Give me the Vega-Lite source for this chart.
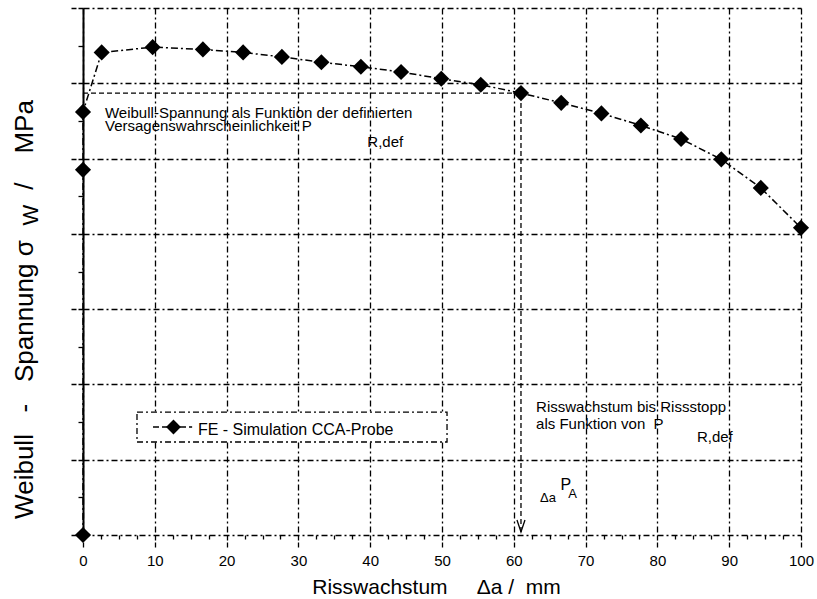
{
  "$schema": "https://vega.github.io/schema/vega-lite/v6.json",
  "width": 718,
  "height": 527,
  "autosize": {"type": "none"},
  "padding": {"left": 83, "top": 8, "right": 16, "bottom": 64},
  "background": "white",
  "config": {
    "view": {"stroke": null},
    "font": "Liberation Sans",
    "axis": {"labelFont": "Liberation Sans", "titleFont": "Liberation Sans", "labelColor": "black", "titleColor": "black", "tickColor": "black", "domainColor": "black", "gridColor": "black"}
  },
  "datasets": {
    "series": [
      {"o": 1, "a": 0, "s": 0},
      {"o": 2, "a": 0, "s": 485},
      {"o": 3, "a": 0, "s": 562},
      {"o": 4, "a": 2.6, "s": 641},
      {"o": 5, "a": 9.7, "s": 648},
      {"o": 6, "a": 16.7, "s": 645},
      {"o": 7, "a": 22.3, "s": 641},
      {"o": 8, "a": 27.7, "s": 635},
      {"o": 9, "a": 33.2, "s": 628},
      {"o": 10, "a": 38.7, "s": 622},
      {"o": 11, "a": 44.3, "s": 615},
      {"o": 12, "a": 49.9, "s": 606},
      {"o": 13, "a": 55.4, "s": 598},
      {"o": 14, "a": 61.0, "s": 587},
      {"o": 15, "a": 66.6, "s": 574},
      {"o": 16, "a": 72.2, "s": 560},
      {"o": 17, "a": 77.7, "s": 544},
      {"o": 18, "a": 83.3, "s": 526},
      {"o": 19, "a": 88.9, "s": 499},
      {"o": 20, "a": 94.4, "s": 461},
      {"o": 21, "a": 100, "s": 408}
    ]
  },
  "resolve": {"axis": {"x": "independent", "y": "independent"}},
  "layer": [
    {
      "data": {"name": "series"},
      "mark": {"type": "line", "color": "black", "strokeWidth": 1.5, "strokeDash": [7, 3, 2, 3]},
      "encoding": {
        "x": {"field": "a", "type": "quantitative",
          "scale": {"domain": [0, 100], "nice": false, "zero": false},
          "axis": {"orient": "bottom", "values": [0, 10, 20, 30, 40, 50, 60, 70, 80, 90, 100], "grid": true, "gridDash": [6, 3, 2, 3], "gridWidth": 1.3, "domain": false, "ticks": true, "tickSize": 12, "tickDash": [5, 2], "tickWidth": 1.3, "labelFontSize": 15, "labelPadding": 6, "labelFlush": false, "title": "Risswachstum\u00a0\u00a0\u00a0\u00a0\u00a0Δa\u00a0/\u00a0\u00a0mm", "titleFontSize": 21, "titleFontWeight": "normal", "titleX": 353, "titleY": 58, "titleBaseline": "alphabetic", "titleAlign": "center"}},
        "y": {"field": "s", "type": "quantitative",
          "scale": {"domain": [0, 700], "nice": false},
          "axis": {"orient": "left", "values": [0, 100, 200, 300, 400, 500, 600, 700], "grid": true, "gridDash": [6, 3, 2, 3], "gridWidth": 1.3, "domain": true, "domainWidth": 2, "ticks": true, "tickSize": 13, "tickDash": [5, 2], "tickWidth": 1.3, "labels": false, "title": "Weibull\u00a0\u00a0\u00a0-\u00a0\u00a0\u00a0Spannung\u00a0σ\u00a0\u00a0\u00a0\u00a0\u00a0\u00a0\u00a0/\u00a0\u00a0\u00a0\u00a0MPa", "titleFontSize": 26, "titleFontWeight": "normal", "titleX": -51, "titleY": 301, "titleAngle": 270, "titleBaseline": "alphabetic", "titleAlign": "center"}},
        "order": {"field": "o", "type": "quantitative"}
      }
    },
    {
      "data": {"name": "series"},
      "mark": {"type": "point", "shape": "diamond", "filled": true, "color": "black", "size": 260, "opacity": 1},
      "encoding": {
        "x": {"field": "a", "type": "quantitative",
          "axis": {"orient": "bottom", "values": [2.5, 5, 7.5, 12.5, 15, 17.5, 22.5, 25, 27.5, 32.5, 35, 37.5, 42.5, 45, 47.5, 52.5, 55, 57.5, 62.5, 65, 67.5, 72.5, 75, 77.5, 82.5, 85, 87.5, 92.5, 95, 97.5], "grid": false, "domain": false, "labels": false, "tickSize": 4, "tickWidth": 1.3, "title": null}},
        "y": {"field": "s", "type": "quantitative",
          "axis": {"orient": "left", "values": [50, 150, 250, 350, 450, 550, 650], "grid": false, "domain": false, "labels": false, "tickSize": 5, "tickWidth": 1.3, "title": null}}
      }
    },
    {
      "data": {"values": [{"o": 1, "a": 0, "s": 587}, {"o": 2, "a": 61, "s": 587}, {"o": 3, "a": 61, "s": 4}]},
      "mark": {"type": "line", "color": "black", "strokeWidth": 1.3, "strokeDash": [5, 3]},
      "encoding": {
        "x": {"field": "a", "type": "quantitative", "axis": null},
        "y": {"field": "s", "type": "quantitative", "axis": null},
        "order": {"field": "o", "type": "quantitative"}
      }
    },
    {
      "data": {"values": [{"a": 61, "s": 4}]},
      "mark": {"type": "point", "shape": "M-1,-3L0,0L1,-3", "filled": false, "color": "black", "strokeWidth": 1.3, "size": 64, "opacity": 1},
      "encoding": {
        "x": {"field": "a", "type": "quantitative", "axis": null},
        "y": {"field": "s", "type": "quantitative", "axis": null}
      }
    },
    {
      "data": {"values": [{"a": 7.52, "a2": 50.7, "s": 123.5, "s2": 163.3}]},
      "mark": {"type": "rect", "fill": "white", "stroke": "black", "strokeWidth": 1.3, "strokeDash": [6, 3, 2, 3]},
      "encoding": {
        "x": {"field": "a", "type": "quantitative", "axis": null},
        "x2": {"field": "a2"},
        "y": {"field": "s", "type": "quantitative", "axis": null},
        "y2": {"field": "s2"}
      }
    },
    {
      "data": {"values": [{"a": 9.75, "s": 143.4}, {"a": 15.2, "s": 143.4}]},
      "mark": {"type": "line", "color": "black", "strokeWidth": 1.5, "strokeDash": [6, 3]},
      "encoding": {
        "x": {"field": "a", "type": "quantitative", "axis": null},
        "y": {"field": "s", "type": "quantitative", "axis": null}
      }
    },
    {
      "data": {"values": [{"a": 12.6, "s": 143.4}]},
      "mark": {"type": "point", "shape": "diamond", "filled": true, "color": "black", "size": 220, "opacity": 1},
      "encoding": {
        "x": {"field": "a", "type": "quantitative", "axis": null},
        "y": {"field": "s", "type": "quantitative", "axis": null}
      }
    },
    {
      "data": {"values": [{"a": 16.0, "s": 133, "t": "FE - Simulation CCA-Probe"}]},
      "mark": {"type": "text", "fontSize": 16, "align": "left", "baseline": "alphabetic", "color": "black"},
      "encoding": {
        "x": {"field": "a", "type": "quantitative", "axis": null},
        "y": {"field": "s", "type": "quantitative", "axis": null},
        "text": {"field": "t"}
      }
    },
    {
      "data": {"values": [
        {"a": 3.06, "s": 554, "t": "Weibull-Spannung als Funktion der definierten"},
        {"a": 3.06, "s": 537, "t": "Versagenswahrscheinlichkeit P"},
        {"a": 39.6, "s": 515, "t": "R,def"},
        {"a": 63.1, "s": 163, "t": "Risswachstum bis Rissstopp"},
        {"a": 63.1, "s": 141, "t": "als Funktion von\u00a0\u00a0P"},
        {"a": 85.5, "s": 123.5, "t": "R,def"}
      ]},
      "mark": {"type": "text", "fontSize": 15, "align": "left", "baseline": "alphabetic", "color": "black"},
      "encoding": {
        "x": {"field": "a", "type": "quantitative", "axis": null},
        "y": {"field": "s", "type": "quantitative", "axis": null},
        "text": {"field": "t"}
      }
    },
    {
      "data": {"values": [{"a": 63.65, "s": 43.8, "t": "Δa"}, {"a": 67.6, "s": 49.1, "t": "A"}]},
      "mark": {"type": "text", "fontSize": 13, "align": "left", "baseline": "alphabetic", "color": "black"},
      "encoding": {
        "x": {"field": "a", "type": "quantitative", "axis": null},
        "y": {"field": "s", "type": "quantitative", "axis": null},
        "text": {"field": "t"}
      }
    },
    {
      "data": {"values": [{"a": 66.5, "s": 59.8, "t": "P"}]},
      "mark": {"type": "text", "fontSize": 16, "align": "left", "baseline": "alphabetic", "color": "black"},
      "encoding": {
        "x": {"field": "a", "type": "quantitative", "axis": null},
        "y": {"field": "s", "type": "quantitative", "axis": null},
        "text": {"field": "t"}
      }
    },
    {
      "data": {"values": [{"a": -6.2, "s": 425, "t": "W"}]},
      "mark": {"type": "text", "fontSize": 22, "angle": 270, "align": "center", "baseline": "alphabetic", "color": "black"},
      "encoding": {
        "x": {"field": "a", "type": "quantitative", "axis": null},
        "y": {"field": "s", "type": "quantitative", "axis": null},
        "text": {"field": "t"}
      }
    }
  ]
}
